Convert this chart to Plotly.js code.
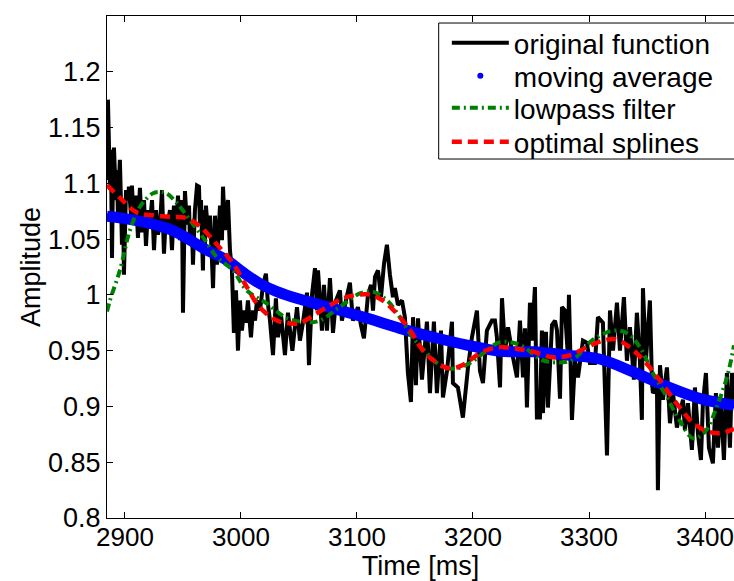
<!DOCTYPE html>
<html><head><meta charset="utf-8">
<script src="https://cdn.plot.ly/plotly-3.0.1.min.js"></script>
<style>html,body{margin:0;padding:0;background:#fff;} #chart{width:734px;height:581px;}</style>
</head><body><div id="chart"></div>
<script>
// ---- data ----
const seriesNames = ['original function', 'moving average', 'lowpass filter', 'optimal splines'];

const origTime = [2884.5,2885.3,2887.1,2887.9,2888.8,2889.6,2890.5,2892.2,2893.1,2893.9,2894.8,2895.6,2896.5,2897.4,2898.3,2899.1,2900.9,2902.6,2903.4,2905.2,2906.0,2907.7,2909.5,2911.2,2912.1,2912.9,2914.6,2916.4,2918.1,2919.8,2921.5,2923.3,2925.0,2926.7,2928.4,2930.2,2931.9,2933.6,2935.3,2937.1,2938.8,2940.5,2942.2,2944.0,2945.7,2947.4,2949.1,2950.0,2950.9,2951.7,2953.4,2955.2,2956.0,2957.7,2958.6,2960.3,2962.1,2963.8,2964.6,2965.5,2967.2,2968.1,2969.0,2969.8,2971.5,2973.3,2975.0,
2975.9,2977.6,2979.3,2981.9,2983.6,2984.5,2986.2,2987.0,2988.8,2990.5,2992.2,2993.9,2995.7,2997.4,2999.1,3000.8,3002.6,3004.3,3006.0,3008.6,3010.3,3012.1,3013.8,3016.4,3019.0,3021.5,3023.3,3025.0,3027.6,3030.1,3031.9,3034.5,3037.9,3040.5,3044.3,3048.3,3050.8,3053.4,3056.9,3058.6,3061.2,3063.8,
3065.5,3066.4,3068.1,3069.8,3071.5,3074.1,3076.7,3079.3,3081.9,3085.3,3087.0,3090.5,3093.9,3096.5,3100.8,3103.4,3106.0,3109.5,3112.1,3113.8,3115.5,3118.1,3120.7,3123.3,3125.8,3128.4,3131.0,3132.7,3135.3,3138.8,3141.3,3143.9,3146.5,3148.3,3150.8,3152.6,3156.0,3160.3,3162.9,3166.3,3168.9,3172.4,3174.1,3177.6,3181.9,3182.7,3187.0,3191.3,3195.7,3199.1,3203.4,3206.0,3208.6,3212.0,3216.3,3218.9,3220.6,3223.3,3225.0,3227.6,3230.2,3234.5,3237.9,3240.5,3243.1,
3244.8,3246.5,3249.1,3250.8,3253.4,3255.1,3257.7,3259.4,3260.3,3262.9,3264.6,3268.1,3270.7,3272.4,3275.0,3276.7,3279.3,3281.9,3282.7,3285.3,3287.9,3290.5,3294.8,3298.2,3300.8,3305.1,3307.7,3312.0,3315.5,3318.1,3320.7,3324.1,3326.7,3330.1,3332.7,3335.3,3338.7,3341.3,3343.9,3345.6,3346.5,3349.1,3352.5,3354.3,3355.1,3358.6,3359.4,3361.2,3363.7,3367.2,3369.8,3372.4,3375.8,3378.4,3381.0,3382.7,3385.3,3388.7,3391.3,3393.9,3396.5,3398.2,3400.8,3403.4,3406.8,3409.4,3411.2,3413.7,3416.3,3418.9,3421.5,3423.2,3425.0];

const origAmp = [1.103,1.175,1.094,1.130,1.033,1.103,1.132,1.085,1.112,1.071,1.101,1.121,1.085,1.045,1.085,1.018,1.094,1.085,1.097,1.071,1.098,1.063,1.089,1.051,1.080,1.096,1.056,1.085,1.044,1.076,1.063,1.085,1.040,1.076,1.054,1.063,1.094,1.037,1.071,1.065,1.076,1.040,1.080,1.056,1.089,1.049,1.085,0.984,1.040,1.093,1.063,1.080,1.049,1.063,1.027,1.076,1.098,1.097,1.063,1.085,1.022,1.076,1.045,1.080,1.056,1.071,1.031,
1.006,1.071,1.027,1.080,1.049,1.097,1.058,1.071,1.085,1.040,1.022,0.966,1.004,0.950,0.995,0.968,0.986,0.975,0.995,0.962,0.986,0.977,0.995,0.986,1.009,1.019,0.991,0.977,0.946,0.997,0.962,0.982,0.946,0.984,0.950,0.989,0.959,0.975,1.002,0.937,1.000,1.024,
0.986,1.022,0.995,0.968,1.009,0.968,1.015,0.966,0.995,1.004,0.977,0.995,1.011,0.977,0.989,0.973,0.961,1.000,1.009,0.986,1.016,1.022,0.998,1.028,1.045,1.018,0.998,1.006,0.991,0.995,0.980,0.930,0.904,0.980,0.919,0.979,0.924,0.976,0.912,0.976,0.912,0.968,0.908,0.932,0.976,0.921,0.917,0.890,0.935,0.962,0.986,0.932,0.921,0.968,0.977,0.977,0.962,0.917,0.997,0.950,0.971,0.944,0.926,0.977,0.926,
0.970,0.899,0.993,0.959,1.007,0.890,0.890,0.968,0.894,0.967,0.899,0.973,0.977,0.968,0.907,0.989,0.986,0.944,1.000,0.888,0.941,0.926,0.959,0.957,0.939,0.939,0.980,0.975,0.856,0.986,0.950,0.993,0.950,0.998,0.941,0.971,0.924,0.984,0.941,0.888,1.006,0.941,0.995,0.921,0.912,0.917,0.825,0.937,0.906,0.935,0.885,0.912,0.881,0.894,0.906,0.879,0.903,0.861,0.917,0.876,0.852,0.903,0.930,0.863,0.849,0.912,0.863,0.906,0.852,0.930,0.863,0.930,0.906];

const maTime = [2884.5,2913,2940.5,2969,2988,3002,3016.5,3031,3051,3079,3109,3137,3166,3195,3223,3252,3281,3309,3338,3367,3396,3425];
const maAmp  = [1.0705,1.066,1.058,1.041,1.031,1.020,1.010,1.003,0.996,0.988,0.979,0.970,0.962,0.955,0.9495,0.949,0.946,0.9425,0.931,0.918,0.907,0.901];

const lpTime = [2884.5,2887,2895.6,2904.3,2912.9,2924,2930,2936,2945,2956,2967,2979,2993,3005,3022,3040,3057,3068,3085,3103,3114,3126,3137,3148,3160,3174,3186,3197,3209,3223,3241,3260,3281,3289,3303,3321,3333,3344,3355,3367,3378,3390,3401,3410,3419,3425];
const lpAmp  = [0.985,0.995,1.022,1.058,1.079,1.091,1.0924,1.091,1.082,1.067,1.052,1.034,1.022,1.004,0.9925,0.979,0.9755,0.977,0.989,1.0015,1.0027,0.995,0.980,0.962,0.948,0.9354,0.934,0.9387,0.9477,0.9575,0.955,0.9414,0.940,0.9443,0.9594,0.968,0.9656,0.953,0.930,0.9085,0.8876,0.8714,0.8786,0.8995,0.9264,0.9548];

const spTime = [2884.5,2896,2910,2924,2939,2953,2965,2979,2993,3005,3016,3031,3042,3051,3060,3074,3091,3111,3122,3134,3146,3157,3169,3180,3191,3206,3221,3235,3252,3269,3284,3298,3312,3324,3335,3347,3361,3376,3390,3401,3413,3425];
const spAmp  = [1.0984,1.0867,1.074,1.0713,1.070,1.0688,1.061,1.0455,1.0283,1.0072,0.989,0.977,0.9745,0.9746,0.980,0.989,0.998,1.0003,0.995,0.9836,0.968,0.950,0.939,0.934,0.937,0.9477,0.953,0.952,0.949,0.944,0.946,0.953,0.959,0.960,0.953,0.9415,0.9235,0.902,0.885,0.878,0.876,0.880];

const xTickVals = [2900, 3000, 3100, 3200, 3300, 3400];
const xTickText = ['2900', '3000', '3100', '3200', '3300', '3400'];
const yTickVals = [0.8, 0.85, 0.9, 0.95, 1, 1.05, 1.1, 1.15, 1.2];
const yTickText = ['0.8', '0.85', '0.9', '0.95', '1', '1.05', '1.1', '1.15', '1.2'];

// ---- drawing ----
const FONT = 'Liberation Sans, Arial, Helvetica, sans-serif';

const traces = [
  {x: origTime, y: origAmp, type: 'scatter', mode: 'lines', name: seriesNames[0],
   line: {color: '#000000', width: 4, simplify: false}, legend: 'legend'},
  {x: maTime, y: maAmp, type: 'scatter', mode: 'lines', name: seriesNames[1], showlegend: false,
   line: {color: '#0000ff', width: 11, shape: 'spline'}},
  {x: maTime, y: maAmp, type: 'scatter', mode: 'markers', name: seriesNames[1],
   marker: {color: '#0000ff', size: 6}, legend: 'legend2'},
  {x: lpTime, y: lpAmp, type: 'scatter', mode: 'lines', name: seriesNames[2],
   line: {color: '#008000', width: 4, dash: '8px,4px,2px,4px', shape: 'spline'}, legend: 'legend3'},
  {x: spTime, y: spAmp, type: 'scatter', mode: 'lines', name: seriesNames[3],
   line: {color: '#ff0000', width: 4.5, dash: '10px,6px', shape: 'spline'}, legend: 'legend4'}
];

function leg(yc) {
  return {x: 0.542, xanchor: 'left', y: yc, yanchor: 'middle', bgcolor: 'rgba(0,0,0,0)',
          borderwidth: 0, itemwidth: 57, font: {family: FONT, size: 28, color: '#000'}};
}

const layout = {
  width: 734, height: 581,
  margin: {l: 107, r: 0, t: 16, b: 63, pad: 0},
  paper_bgcolor: '#ffffff', plot_bgcolor: '#ffffff',
  font: {family: FONT, size: 27, color: '#000'},
  showlegend: true,
  legend: leg(0.9462), legend2: leg(0.8805), legend3: leg(0.8167), legend4: leg(0.7490),
  xaxis: {
    range: [2884.5, 3425], tickvals: xTickVals, ticktext: xTickText,
    ticks: 'inside', ticklen: 6, tickwidth: 1, tickcolor: '#000',
    showline: true, linecolor: '#000', linewidth: 1, mirror: 'ticks',
    showgrid: false, zeroline: false, automargin: false, ticklabeloverflow: 'allow',
    ticklabelstandoff: -4,
    tickfont: {family: FONT, size: 26, color: '#000'},
    title: {text: 'Time [ms]', font: {family: FONT, size: 27, color: '#000'}, standoff: 3}
  },
  yaxis: {
    range: [0.8, 1.25], tickvals: yTickVals, ticktext: yTickText,
    ticks: 'inside', ticklen: 6, tickwidth: 1, tickcolor: '#000',
    showline: true, linecolor: '#000', linewidth: 1, mirror: false,
    showgrid: false, zeroline: false, automargin: false,
    tickfont: {family: FONT, size: 27, color: '#000'},
    title: {text: 'Amplitude', font: {family: FONT, size: 27, color: '#000'}}
  },
  shapes: [{type: 'rect', xref: 'paper', yref: 'paper', x0: 0.529, x1: 1.1, y0: 0.7151, y1: 0.986,
            line: {color: '#000', width: 1}, fillcolor: '#ffffff', layer: 'above'}]
};

Plotly.newPlot('chart', traces, layout, {staticPlot: true, displayModeBar: false});
</script>
</body></html>
